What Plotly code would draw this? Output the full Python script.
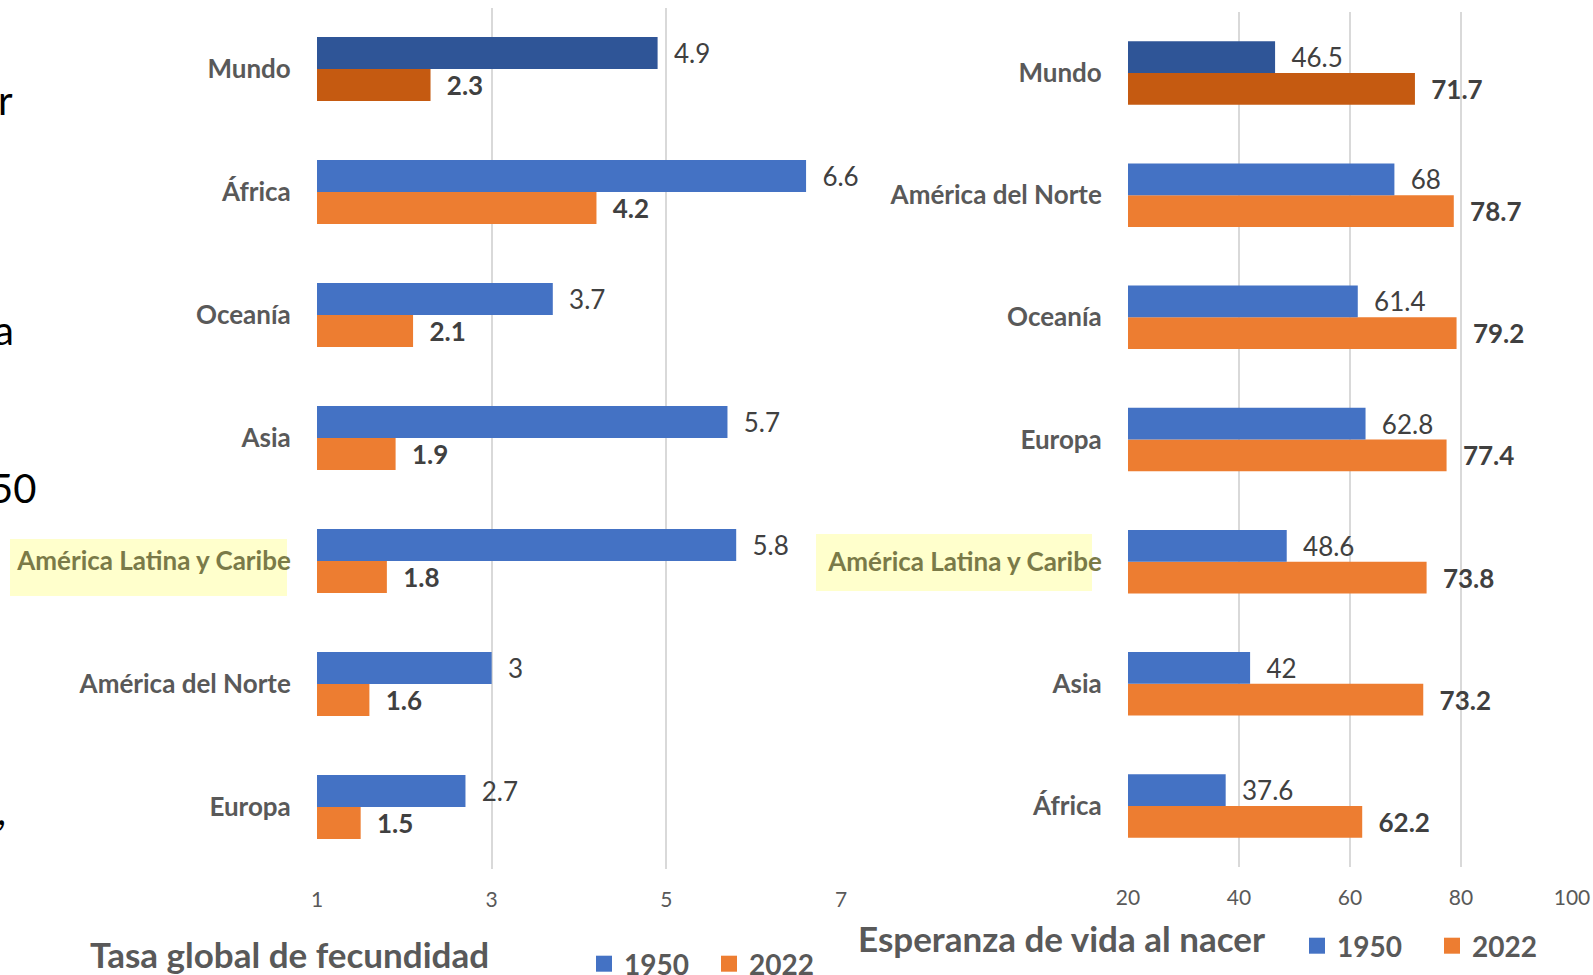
import plotly.graph_objects as go

# ---------------- data ----------------
fec_regions = ["Mundo", "África", "Oceanía", "Asia", "América Latina y Caribe",
               "América del Norte", "Europa"]
fec_1950 = [4.9, 6.6, 3.7, 5.7, 5.8, 3, 2.7]
fec_2022 = [2.3, 4.2, 2.1, 1.9, 1.8, 1.6, 1.5]

ev_regions = ["Mundo", "América del Norte", "Oceanía", "Europa",
              "América Latina y Caribe", "Asia", "África"]
ev_1950 = [46.5, 68, 61.4, 62.8, 48.6, 42, 37.6]
ev_2022 = [71.7, 78.7, 79.2, 77.4, 73.8, 73.2, 62.2]

fec_ticks = [1, 3, 5, 7]
ev_ticks = [20, 40, 60, 80, 100]

series_names = ["1950", "2022"]
highlight = "América Latina y Caribe"
fragments = ["r", "a", "50", ","]

# ---------------- styles ----------------
W, H = 1593, 975
BLUE, ORANGE = "#4472C4", "#ED7D31"
BLUE_D, ORANGE_D = "#2F5597", "#C55A11"
GRAY = "#595959"
LBL = "#404040"
FONT = "Lato"
PAD = "\u00a0\u00a0"


def px_x(p):
    return p / W


def px_y(p):
    return 1 - p / H


def colors(regions, base, dark):
    return [dark if r == "Mundo" else base for r in regions]


def ticktext(regions):
    return [f"<span style='color:#7A7A48'>{r}</span>" if r == highlight else r
            for r in regions]


fig = go.Figure()


def add_pair(regions, v1950, v2022, xa, ya, legend):
    regs = regions[::-1]
    a = v1950[::-1]
    b = v2022[::-1]
    fig.add_trace(go.Bar(
        y=regs, x=b, orientation="h", name=series_names[1], showlegend=False,
        marker=dict(color=colors(regs, ORANGE, ORANGE_D), line=dict(width=0)),
        texttemplate=PAD + "<b>%{x}</b>", textposition="outside",
        textfont=dict(family=FONT, size=26, color=LBL),
        constraintext="none", cliponaxis=False,
        xaxis=xa, yaxis=ya, hoverinfo="x+y"))
    fig.add_trace(go.Bar(
        y=regs, x=a, orientation="h", name=series_names[0], showlegend=False,
        marker=dict(color=colors(regs, BLUE, BLUE_D), line=dict(width=0)),
        texttemplate=PAD + "%{x}", textposition="outside",
        textfont=dict(family=FONT, size=26, color=LBL),
        constraintext="none", cliponaxis=False,
        xaxis=xa, yaxis=ya, hoverinfo="x+y"))
    # legend entries (square keys like the original)
    for name, col in zip(series_names, [BLUE, ORANGE]):
        fig.add_trace(go.Scatter(
            x=[None], y=[None], mode="markers", name=name,
            marker=dict(symbol="square", size=18, color=col),
            xaxis=xa, yaxis=ya, legend=legend, hoverinfo="skip"))


add_pair(fec_regions, fec_1950, fec_2022, "x", "y", "legend")
add_pair(ev_regions, ev_1950, ev_2022, "x2", "y2", "legend2")

xcommon = dict(showgrid=True, gridcolor="#D9D9D9", gridwidth=1.5, zeroline=False,
               showline=False, ticks="outside", ticklen=12, automargin=False,
               tickcolor="rgba(0,0,0,0)",
               tickfont=dict(family=FONT, size=21, color=GRAY), fixedrange=True)
ycommon = dict(type="category", showgrid=False, zeroline=False, showline=False,
               ticks="outside", ticklen=20, tickcolor="rgba(0,0,0,0)", automargin=False,
               tickfont=dict(family=FONT, size=26, color=GRAY, weight="bold"),
               fixedrange=True)

legcommon = dict(orientation="h", xanchor="left", yanchor="middle",
                 traceorder="normal", itemsizing="trace",
                 font=dict(family=FONT, size=28, color=GRAY, weight="bold"),
                 entrywidthmode="pixels", bgcolor="rgba(0,0,0,0)",
                 itemclick=False, itemdoubleclick=False)

fig.update_layout(
    width=W, height=H,
    margin=dict(l=0, r=0, t=0, b=0, autoexpand=False),
    paper_bgcolor="white", plot_bgcolor="white",
    barmode="group", bargap=0.48, bargroupgap=0,
    font=dict(family=FONT, color=GRAY),
    xaxis=dict(domain=[px_x(317), px_x(841)], range=[1, 7], tickvals=fec_ticks,
               anchor="y", **xcommon),
    yaxis=dict(domain=[px_y(868.5), px_y(7.5)], anchor="x",
               categoryorder="array", categoryarray=fec_regions[::-1],
               tickvals=fec_regions, ticktext=ticktext(fec_regions), **ycommon),
    xaxis2=dict(domain=[px_x(1128), px_x(1572)], range=[20, 100], tickvals=ev_ticks,
                anchor="y2", **xcommon),
    yaxis2=dict(domain=[px_y(867), px_y(12)], anchor="x2",
                categoryorder="array", categoryarray=ev_regions[::-1],
                tickvals=ev_regions, ticktext=ticktext(ev_regions), **ycommon),
    legend=dict(x=px_x(584), y=px_y(964), entrywidth=80, **legcommon),
    legend2=dict(x=px_x(1297), y=px_y(946), entrywidth=90, **legcommon),
    showlegend=True,
)

# highlight boxes behind "América Latina y Caribe"
fig.add_shape(type="rect", xref="paper", yref="paper", layer="below",
              x0=px_x(10), x1=px_x(287), y0=px_y(596), y1=px_y(539),
              fillcolor="#FFFFCC", line=dict(width=0))
fig.add_shape(type="rect", xref="paper", yref="paper", layer="below",
              x0=px_x(816), x1=px_x(1092), y0=px_y(591), y1=px_y(534),
              fillcolor="#FFFFCC", line=dict(width=0))

# axis titles
fig.add_annotation(text="<b>Tasa global de fecundidad</b>", xref="paper", yref="paper",
                   x=px_x(289), y=px_y(954), xanchor="center", yanchor="middle",
                   showarrow=False, font=dict(family=FONT, size=35, color=GRAY))
fig.add_annotation(text="<b>Esperanza de vida al nacer</b>", xref="paper", yref="paper",
                   x=px_x(1061), y=px_y(938), xanchor="center", yanchor="middle",
                   showarrow=False, font=dict(family=FONT, size=35, color=GRAY))

# cropped slide text at the left edge
frag_pos = [(15, 100), (16, 330), (38, 488), (8, 810)]
for t, (fx, fy) in zip(fragments, frag_pos):
    fig.add_annotation(text=t, xref="paper", yref="paper", x=px_x(fx), y=px_y(fy),
                       xanchor="right", yanchor="middle", showarrow=False,
                       font=dict(family=FONT, size=40, color="#000000"))

fig.write_html("out.html", config={"displayModeBar": False},
               post_script="document.body.style.margin='0';")
